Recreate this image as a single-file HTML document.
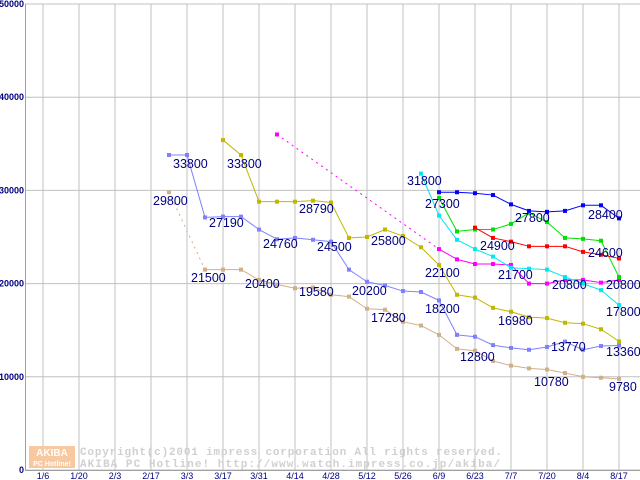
<!DOCTYPE html>
<html><head><meta charset="utf-8"><style>
html,body{margin:0;padding:0;background:#fff;}
svg{display:block;}
</style></head><body>
<svg id="chart" width="640" height="480" xmlns="http://www.w3.org/2000/svg"></svg>
<script>
const xLabels=["1/6","1/20","2/3","2/17","3/3","3/17","3/31","4/14","4/28","5/12","5/26","6/9","6/23","7/7","7/20","8/4","8/17"];
const yTicks=[0,10000,20000,30000,40000,50000];
const tanStart=7;
const tanVals=[29800,null,21500,21500,21500,20400,19900,19500,19580,18800,18600,17300,17200,15900,15500,14500,13000,12800,11700,11200,10900,10780,10400,10000,9900,9780];
const lavStart=7;
const lavVals=[33800,33800,27100,27190,27190,25800,24760,24900,24700,24500,21500,20200,19800,19200,19100,18200,14500,14300,13400,13100,12900,13200,13770,12900,13300,13360];
const oliveStart=10;
const oliveVals=[35400,33800,28790,28790,28790,28900,28700,24900,25000,25800,25100,23900,22000,18800,18500,17400,16980,16400,16300,15800,15700,15100,13800];
const magStart=13;
const magVals=[36000,null,null,null,null,null,null,null,null,23700,22600,22100,22100,22000,20000,20000,20400,20400,20100,20400];
const cyanStart=21;
const cyanVals=[31800,27300,24700,23700,22900,21700,21600,21500,20700,20000,19300,17700];
const greenStart=22;
const greenVals=[29200,25600,25800,25800,26400,27600,26600,24900,24800,24600,20700];
const redStart=24;
const redVals=[26000,24900,24500,24000,24000,24000,23400,23100,22700];
const blueStart=22;
const blueVals=[29800,29800,29700,29500,28500,27800,27700,27800,28400,28400,27000];
const annTexts=["33800","33800","29800","27190","28790","24760","24500","21500","20400","19580","20200","25800","17280","31800","27300","27800","28400","24900","24600","22100","21700","20800","20800","18200","17800","16980","12800","13770","13360","10780","9780"];
const annX=[173,227,153,209,299,263,317,191,245,299,352,371,371,407,425,515,588,480,588,425,498,552,606,425,606,498,460,551,606,534,609];
const annY=[168,168,205,227,213,248,251,282,288,296,295,245,322,185,208,222,219,250,257,277,279,289,289,313,316,325,361,351,356,386,391];

const NS="http://www.w3.org/2000/svg";
const svg=document.getElementById('chart');
function X(week){return 43+18*week;}
function Y(v){return 470-v*0.00932;}
function mk(tag,attrs,parent){const e=document.createElementNS(NS,tag);for(const k in attrs)e.setAttribute(k,attrs[k]);(parent||svg).appendChild(e);return e;}

for(let i=0;i<yTicks.length;i++){
  const y=Y(yTicks[i]);
  const l=mk('line',{x1:25,x2:640,y1:y,y2:y,stroke:'#c0c0c0','stroke-width':1});
  
  
  const t=mk('text',{x:24,y:y+3,'text-anchor':'end','font-family':'Liberation Sans, sans-serif','font-size':9,'font-weight':'bold',fill:'#000080'});
  t.textContent=yTicks[i];
  
  
}
for(let i=0;i<xLabels.length;i++){
  const x=X(i*2);
  const l=mk('line',{x1:x,x2:x,y1:4,y2:470,stroke:'#c0c0c0','stroke-width':1});
  
  
  const t=mk('text',{x:x,y:479,'text-anchor':'middle','font-family':'Liberation Sans, sans-serif','font-size':9,fill:'#000080'});
  t.textContent=xLabels[i];
  
  
}
const ax=mk('line',{x1:25.5,x2:25.5,y1:4,y2:470,stroke:'#a0a0a0'});


const bx=mk('line',{x1:25,x2:640,y1:470.5,y2:470.5,stroke:'#a0a0a0'});



const logo=mk('rect',{x:29,y:446,width:46,height:22,fill:'#f8c8a0'});


const lt1=mk('text',{x:52,y:456,'text-anchor':'middle','font-family':'Liberation Sans, sans-serif','font-size':10,'font-weight':'bold',fill:'#fff'});
lt1.textContent='AKIBA';


const lt2=mk('text',{x:52,y:466,'text-anchor':'middle','font-family':'Liberation Sans, sans-serif','font-size':7,'font-weight':'bold',fill:'#fff'});
lt2.textContent='PC Hotline!';


const c1=mk('text',{x:80,y:455,'font-family':'Liberation Mono, monospace','font-size':11,'font-weight':'bold',fill:'#d0d0d0',textLength:422});
c1.textContent='Copyright(c)2001 impress corporation All rights reserved.';


const c2=mk('text',{x:80,y:467,'font-family':'Liberation Mono, monospace','font-size':11,'font-weight':'bold',fill:'#d0d0d0',textLength:420});
c2.textContent='AKIBA PC Hotline!  http://www.watch.impress.co.jp/akiba/';



function series(start,vals,color,name){
  const g=mk('g',{});
  
  
  let prev=null;
  for(let i=0;i<vals.length;i++){
    if(vals[i]===null)continue;
    const x=X(start+i),y=Y(vals[i]);
    if(prev){
      const dotted=(i-prev.i)>1;
      const attrs={x1:prev.x,y1:prev.y,x2:x,y2:y,stroke:color,'stroke-width':1};
      if(dotted)attrs['stroke-dasharray']='2,4';
      mk('line',attrs,g);
    }
    prev={x:x,y:y,i:i};
  }
  for(let i=0;i<vals.length;i++){
    if(vals[i]===null)continue;
    const r=mk('rect',{x:X(start+i)-2,y:Y(vals[i])-2,width:4,height:4,fill:color},g);
    
    
  }
}
series(tanStart,tanVals,'#d0b088','series-tan');
series(lavStart,lavVals,'#8080ff','series-lavender');
series(oliveStart,oliveVals,'#c0b800','series-olive');
series(magStart,magVals,'#ff00ff','series-magenta');
series(cyanStart,cyanVals,'#00e8f0','series-cyan');
series(greenStart,greenVals,'#00e000','series-green');
series(redStart,redVals,'#ff0000','series-red');
series(blueStart,blueVals,'#0000ff','series-blue');

for(let i=0;i<annTexts.length;i++){
  const t=mk('text',{x:annX[i],y:annY[i],'font-family':'Liberation Sans, sans-serif','font-size':12.5,fill:'#000080'});
  t.textContent=annTexts[i];
  
  
}
</script>
</body></html>
